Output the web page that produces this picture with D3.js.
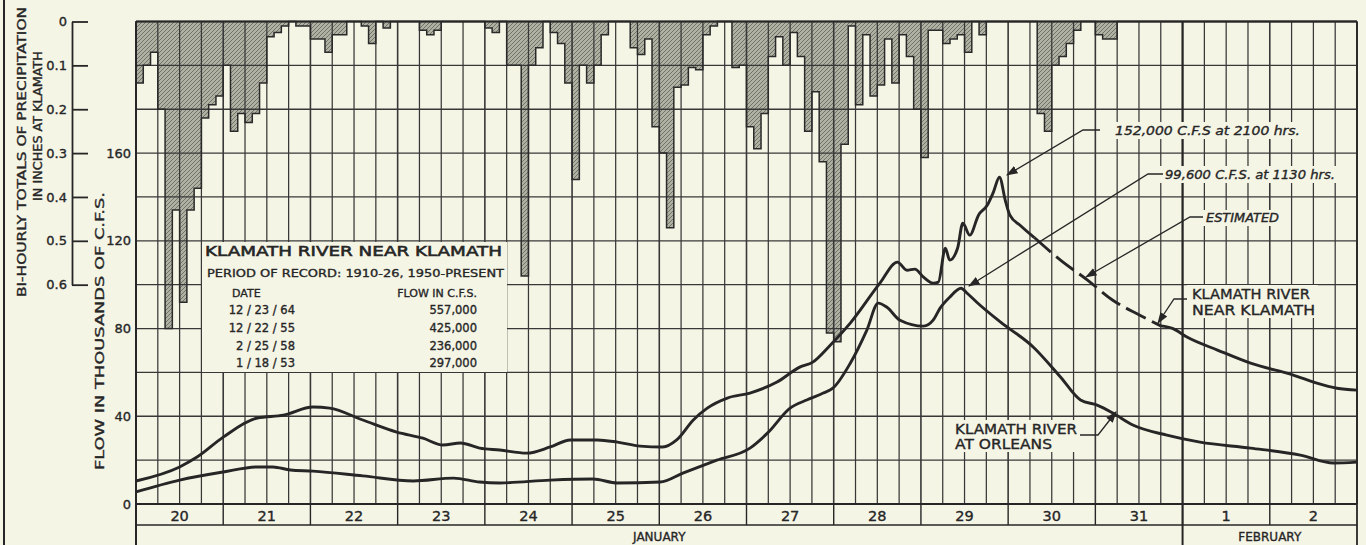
<!DOCTYPE html>
<html><head><meta charset="utf-8">
<script src="https://cdn.jsdelivr.net/npm/d3@7"></script>
<style>
html,body{margin:0;padding:0;background:#f5f5e6;}
svg{display:block;}
text{font-family:"DejaVu Sans",sans-serif;fill:#262626;stroke:#262626;stroke-width:0.35px;}
</style></head><body>
<svg id="c" width="1366" height="545"></svg>
<script>
// ---------------- DATA ----------------
const dayLabels = ["20","21","22","23","24","25","26","27","28","29","30","31","1","2"];
const monthNames = ["JANUARY","FEBRUARY"];
const monthSpans = [[0,12],[12,14]];           // in days from Jan 20 00:00
const flowTicks = [0,40,80,120,160];             // thousands of cfs
const precipTicks = [0,0.1,0.2,0.3,0.4,0.5,0.6]; // inches

// bi-hourly precipitation at Klamath (inches), 12 per day, Jan 20 .. Feb 2
const precip = [
  0.14,0.10,0.07,0.20,0.70,0.43,0.64,0.43,0.38,0.22,0.19,0.17,
  0.10,0.25,0.21,0.23,0.21,0.14,0.035,0.025,0.01,0,0.01,0.01,
  0.04,0.04,0.07,0.03,0.03,0,0,0.01,0.05,0,0.015,0,
  0,0,0,0.02,0.03,0.02,0,0,0,0,0,0,
  0.015,0.025,0,0.10,0.10,0.58,0.10,0.06,0,0.025,0.05,0.14,
  0.36,0.10,0.14,0.10,0.03,0,0,0,0.06,0.075,0.04,0.24,
  0.30,0.47,0.15,0.145,0.105,0.11,0.03,0.01,0,0,0.105,0.10,
  0.24,0.29,0.21,0.08,0.035,0.10,0.025,0.08,0.25,0.16,0.32,0.71,
  0.73,0.28,0.01,0.19,0.03,0.17,0.145,0.04,0.14,0.03,0.08,0.20,
  0.31,0.02,0.02,0.05,0.04,0.03,0.07,0,0.03,0,0,0,
  0,0,0,0,0.21,0.25,0.10,0.08,0.05,0.02,0,0,
  0.03,0.04,0.04,0,0,0,0,0,0,0,0,0,
  0,0,0,0,0,0,0,0,0,0,0,0,
  0,0,0,0,0,0,0,0,0,0,0,0
];

// Klamath River near Klamath: [days since Jan 20 00:00, thousands cfs]
const nearKlamath = [
  [0,10.5],[0.5,16.9],[0.7,21.4],[1.0,30.5],[1.39,39.2],[1.69,40.5],[2.03,44.2],[2.22,43.7],
  [2.6,38.3],[2.99,32.8],[3.29,30.0],[3.52,26.9],[3.72,27.8],[3.94,25.5],[4.17,24.6],[4.48,23.2],
  [4.75,26.0],[4.98,29.2],[5.29,29.2],[5.52,28.2],[5.78,26.4],[6.04,26.0],[6.2,29.2],[6.39,38.3],
  [6.55,43.7],[6.78,48.3],[7.04,50.6],[7.35,55.6],[7.61,62.4],[7.76,64.7],[7.96,72.4],[8.19,82.5],
  [8.53,100.7],[8.73,110.3],[8.84,106.6],[8.93,107.1],[9.03,103.4],[9.14,100.7],[9.2,101.2],
  [9.28,116.6],[9.33,111.2],[9.42,116.6],[9.48,128.0],[9.56,122.6],[9.66,131.7],[9.76,136.2],
  [9.83,142.1],[9.9,149.0],[9.97,138.0],[10.02,131.7],[10.14,127.0],[10.3,121.5],[10.6,111.2],
  [10.91,102.1],[11.2,92.9],[11.51,86.1],[11.75,81.2],[11.89,80.0],[12.05,76.1],[12.4,70.2],
  [12.78,64.2],[13.27,58.8],[13.54,55.1],[13.77,52.8],[14.0,51.9]
];
const estimatedStart = 10.3, estimatedEnd = 11.75;

// Klamath River at Orleans
const atOrleans = [
  [0,5.5],[0.5,10.9],[1.0,14.6],[1.39,16.9],[1.57,16.9],[1.77,15.5],[2.03,15.0],[2.6,12.8],
  [3.18,10.5],[3.64,11.8],[3.94,10.0],[4.17,9.6],[4.75,10.9],[5.24,11.4],[5.52,9.6],[6.01,10.0],
  [6.27,14.1],[6.66,20.0],[7.04,25.5],[7.24,32.3],[7.5,43.7],[7.69,47.4],[7.88,50.6],[7.99,52.8],
  [8.19,64.2],[8.38,79.3],[8.51,91.6],[8.61,89.7],[8.76,83.8],[9.03,81.1],[9.14,83.8],[9.22,89.3],
  [9.33,94.3],[9.46,98.4],[9.53,96.1],[9.64,92.0],[9.91,83.0],[10.29,71.5],[10.6,57.9],[10.83,47.4],
  [11.02,45.1],[11.2,41.5],[11.43,36.0],[11.82,31.4],[12.2,28.2],[12.78,25.5],[13.35,22.3],
  [13.73,18.7],[14.0,19.1]
];

const recordTitle = "KLAMATH RIVER NEAR KLAMATH";
const recordPeriod = "PERIOD OF RECORD: 1910-26, 1950-PRESENT";
const recordDates = ["12 / 23 / 64","12 / 22 / 55","2 / 25 / 58","1 / 18 / 53"];
const recordFlows = ["557,000","425,000","236,000","297,000"];

// ---------------- CHART ----------------
const svg = d3.select("#c");
const BG = "#f5f5e6", INK = "#262626";
const L = 136, R = 1357, T = 21.5, B = 504;
const x = d3.scaleLinear().domain([0,14]).range([L,R]);
const yF = d3.scaleLinear().domain([0,220]).range([B,T]);
const yP = d3.scaleLinear().domain([0,1.1]).range([T,B]);

svg.append("rect").attr("width",1366).attr("height",545).attr("fill",BG);

// hatch pattern
const defs = svg.append("defs");
const pat = defs.append("pattern").attr("id","hatch").attr("patternUnits","userSpaceOnUse")
  .attr("width",4).attr("height",4);
pat.append("rect").attr("width",4).attr("height",4).attr("fill","#afb1a3");
pat.append("path").attr("d","M-1,1 L1,-1 M0,4 L4,0 M3,5 L5,3").attr("stroke","#6a6c62").attr("stroke-width",0.9);
defs.append("marker").attr("id","arr").attr("viewBox","0 0 10 10").attr("refX",9).attr("refY",5)
  .attr("markerWidth",9).attr("markerHeight",9).attr("orient","auto-start-reverse")
  .append("path").attr("d","M0,1.5 L10,5 L0,8.5 Z").attr("fill",INK);

// precipitation histogram (hanging from top)
const pPts = precip.map((v,i)=>[i/12, v]);
pPts.push([14, precip[precip.length-1]]);
svg.append("path").datum(pPts)
  .attr("d", d3.area().x(d=>x(d[0])).y0(yP(0)).y1(d=>yP(d[1])).curve(d3.curveStepAfter))
  .attr("fill","url(#hatch)");

// grid
const g = svg.append("g").attr("stroke","#383838");
d3.range(0,14*4+1).forEach(i=>{
  const t=i/4;
  g.append("line").attr("x1",x(t)).attr("x2",x(t)).attr("y1",T).attr("y2",B)
    .attr("stroke-width", i%4===0 ? 1.6 : 1.25);
});
d3.range(0,221,20).forEach(v=>{
  g.append("line").attr("x1",L).attr("x2",R).attr("y1",yF(v)).attr("y2",yF(v)).attr("stroke-width",1.3);
});

// precipitation outline
svg.append("path").datum(pPts)
  .attr("d", d3.line().x(d=>x(d[0])).y(d=>yP(d[1])).curve(d3.curveStepAfter))
  .attr("fill","none").attr("stroke","#2a2a2a").attr("stroke-width",1.5);

// frame
svg.append("line").attr("x1",L).attr("x2",R).attr("y1",T).attr("y2",T).attr("stroke",INK).attr("stroke-width",1.8);
svg.append("line").attr("x1",L).attr("x2",L).attr("y1",T).attr("y2",545).attr("stroke",INK).attr("stroke-width",1.8);
svg.append("line").attr("x1",R).attr("x2",R).attr("y1",T).attr("y2",545).attr("stroke",INK).attr("stroke-width",1.8);
svg.append("line").attr("x1",4).attr("x2",4).attr("y1",0).attr("y2",545).attr("stroke",INK).attr("stroke-width",2);

// date band
const band = svg.append("g");
band.append("line").attr("x1",L).attr("x2",R).attr("y1",B).attr("y2",B).attr("stroke",INK).attr("stroke-width",1.8);
band.append("line").attr("x1",L).attr("x2",R).attr("y1",525).attr("y2",525).attr("stroke",INK).attr("stroke-width",1.4);
dayLabels.forEach((d,i)=>{
  band.append("line").attr("x1",x(i)).attr("x2",x(i)).attr("y1",B).attr("y2",525).attr("stroke",INK).attr("stroke-width",1.4);
  band.append("text").attr("x",x(i+0.5)).attr("y",521).attr("text-anchor","middle")
    .attr("font-size",14.5).text(d);
});
monthNames.forEach((m,i)=>{
  const [a,b] = monthSpans[i];
  band.append("line").attr("x1",x(a)).attr("x2",x(a)).attr("y1",T).attr("y2",545).attr("stroke",INK).attr("stroke-width",2);
  band.append("text").attr("x",x((a+b)/2)).attr("y",541).attr("text-anchor","middle")
    .attr("font-size",12).text(m);
});

// flow axis
const fa = svg.append("g").attr("transform",`translate(${L},0)`)
  .call(d3.axisLeft(yF).tickValues(flowTicks).tickSize(0).tickPadding(5).tickFormat(d3.format("d")));
fa.select(".domain").remove();
fa.selectAll("text").attr("font-size",13).attr("font-family","DejaVu Sans").attr("fill",INK);

// precipitation axis (bracket)
const yPA = d3.scaleLinear().domain([0,0.6]).range([yP(0),yP(0.6)]);
const pa = svg.append("g").attr("transform","translate(72,0)")
  .call(d3.axisRight(yPA).tickValues(precipTicks).tickSize(16).tickSizeOuter(0)
    .tickFormat(d=> d===0 ? "0" : d3.format(".1f")(d)));
pa.select(".domain").attr("stroke",INK).attr("stroke-width",1.8);
pa.selectAll(".tick line").attr("stroke",INK).attr("stroke-width",1.8);
pa.selectAll("text").attr("x",-5).attr("text-anchor","end").attr("font-size",13)
  .attr("font-family","DejaVu Sans").attr("fill",INK);

// axis titles
function vtext(cx, cy, s, len, fs){
  svg.append("text").attr("transform",`translate(${cx},${cy}) rotate(-90)`)
    .attr("text-anchor","middle").attr("dy","0.36em").attr("font-size",fs)
    .attr("textLength",len).attr("lengthAdjust","spacingAndGlyphs").text(s);
}
vtext(21, 152, "BI-HOURLY TOTALS OF PRECIPITATION", 290, 12.5);
vtext(37, 126, "IN INCHES AT KLAMATH", 150, 12.5);
vtext(99, 331, "FLOW IN THOUSANDS OF C.F.S.", 278, 12.5);

// record box
const rb = svg.append("g");
rb.append("rect").attr("x",202).attr("y",242).attr("width",305).attr("height",130).attr("fill",BG);
rb.append("text").attr("x",205).attr("y",256).attr("font-size",14.5).style("stroke-width","0.6px")
  .attr("textLength",297).attr("lengthAdjust","spacingAndGlyphs").text(recordTitle);
rb.append("text").attr("x",207).attr("y",277).attr("font-size",11)
  .attr("textLength",297).attr("lengthAdjust","spacingAndGlyphs").text(recordPeriod);
rb.append("text").attr("x",232).attr("y",297).attr("font-size",11).text("DATE");
rb.append("text").attr("x",477).attr("y",297).attr("font-size",11).attr("text-anchor","end").text("FLOW IN C.F.S.");
recordDates.forEach((d,i)=>{
  const yy = 314 + i*17.8;
  rb.append("text").attr("x",295).attr("y",yy).attr("font-size",11.5).attr("text-anchor","end").text(d);
  rb.append("text").attr("x",477).attr("y",yy).attr("font-size",11.5).attr("text-anchor","end").text(recordFlows[i]);
});

// annotation backgrounds (hide grid under labels)
const lb = svg.append("g").attr("fill",BG);
[[1108,122,200,17],[1160,166,182,17],[1200,210,84,16],[1187,285,131,33],[950,420,131,32]]
  .forEach(r=>lb.append("rect").attr("x",r[0]).attr("y",r[1]).attr("width",r[2]).attr("height",r[3]));

// curves
const line = d3.line().x(d=>x(d[0])).y(d=>yF(d[1])).curve(d3.curveMonotoneX);
const seg1 = nearKlamath.filter(d=>d[0]<=estimatedStart);
const seg2 = nearKlamath.filter(d=>d[0]>=estimatedStart && d[0]<=estimatedEnd);
const seg3 = nearKlamath.filter(d=>d[0]>=estimatedEnd);
svg.append("path").attr("d",line(seg1)).attr("fill","none").attr("stroke",INK).attr("stroke-width",2.9);
svg.append("path").attr("d",line(seg2)).attr("fill","none").attr("stroke",INK).attr("stroke-width",2.9)
  .attr("stroke-dasharray","22,7");
svg.append("path").attr("d",line(seg3)).attr("fill","none").attr("stroke",INK).attr("stroke-width",2.9);
svg.append("path").attr("d",line(atOrleans)).attr("fill","none").attr("stroke",INK).attr("stroke-width",2.9);

// annotations
function leader(pts){
  svg.append("path").attr("d",d3.line()(pts)).attr("fill","none").attr("stroke",INK)
    .attr("stroke-width",1.3).attr("marker-end","url(#arr)");
}
leader([[1100,130],[1083,130],[1007,175]]);
leader([[1163,174],[1148,174],[969,286]]);
leader([[1203,217],[1190,217],[1086,277]]);
leader([[1187,299],[1174,299],[1158,323]]);
leader([[1080,435],[1098,435],[1116,412]]);

function itxt(xx,yy,s,len,fs){
  svg.append("text").attr("x",xx).attr("y",yy).attr("font-size",fs).attr("font-style","italic")
    .attr("textLength",len).attr("lengthAdjust","spacingAndGlyphs").text(s);
}
itxt(1115,134.5,"152,000 C.F.S  at  2100 hrs.",185,12);
itxt(1165,178.5,"99,600 C.F.S. at 1130 hrs.",170,12);
itxt(1206,222,"ESTIMATED",73,11.5);
function ntxt(xx,yy,s,len,fs){
  svg.append("text").attr("x",xx).attr("y",yy).attr("font-size",fs)
    .attr("textLength",len).attr("lengthAdjust","spacingAndGlyphs").text(s);
}
ntxt(1192,299,"KLAMATH RIVER",118,13.5);
ntxt(1192,315,"NEAR KLAMATH",123,13.5);
ntxt(955,434,"KLAMATH RIVER",122,13.5);
ntxt(955,449,"AT ORLEANS",97,13.5);
</script>
</body></html>
